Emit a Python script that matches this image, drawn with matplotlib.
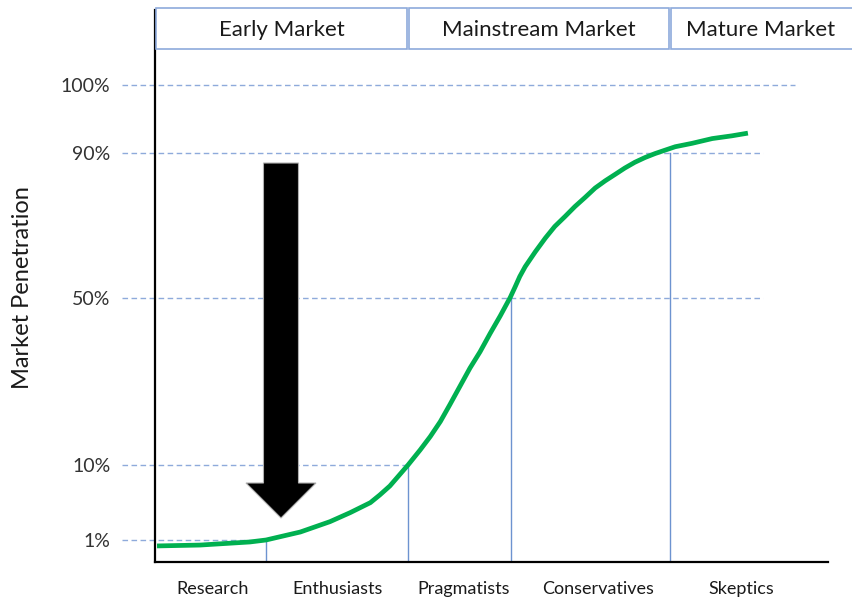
import numpy as np
import matplotlib.pyplot as plt
from matplotlib.patches import Rectangle, FancyArrow
from matplotlib.transforms import blended_transform_factory

plt.rcParams['font.family'] = ['Lato', 'DejaVu Sans']

# adoption curve: time (arbitrary units) vs market penetration (%)
time = [0.3, 6.7, 14.1, 16.5, 21.6, 26.0, 29.0, 32.0, 33.4, 34.9,
        37.6, 39.4, 40.9, 42.4, 43.8, 45.3, 46.8, 48.3, 49.8, 51.3,
        52.8, 53.5, 54.2, 55.0, 56.5, 58.0, 59.4, 60.9, 62.4, 63.9,
        65.4, 66.9, 68.4, 69.8, 71.3, 72.8, 74.3, 75.8, 77.3, 79.8,
        82.8, 85.7, 88.1]
penetration = [0.73, 0.77, 0.91, 1.0, 1.96, 3.2, 4.28, 5.48, 6.4, 7.48,
               10.0, 13.6, 16.8, 20.4, 24.4, 28.8, 33.2, 37.1, 41.5, 45.7,
               50.2, 53.0, 55.9, 58.6, 62.7, 66.5, 69.7, 72.4, 75.2, 77.7,
               80.3, 82.3, 84.1, 85.8, 87.4, 88.7, 89.8, 90.4, 90.9, 91.4,
               92.1, 92.5, 92.9]

# penetration levels and when the curve reaches them
levels = [1, 10, 50, 90, 100]
level_time = [16.5, 37.6, 52.9, 76.5]
guide_end = [16.5, 37.6, 90.3, 90.3, 95.1]

# adopter groups along the bottom
groups = ['Research', 'Enthusiasts', 'Pragmatists', 'Conservatives', 'Skeptics']
group_x = [8.5, 27.1, 45.8, 65.8, 87.1]

# market phases along the top
phases = ['Early Market', 'Mainstream Market', 'Mature Market']
phase_edges = [0, 37.6, 76.5, 104]

# the y axis is not linear: piecewise mapping of % to height
scale_pct = [0, 1, 10, 50, 90, 100, 115]
scale_pos = [0, 22, 97, 264, 409, 477, 579]


def fwd(v):
    return np.interp(v, scale_pct, scale_pos)


def inv(v):
    return np.interp(v, scale_pos, scale_pct)


fig = plt.figure(figsize=(8.52, 6), dpi=100)
ax = fig.add_axes([155 / 852, 38 / 600, 673 / 852, 552 / 600])
ax.set_yscale('function', functions=(fwd, inv))
ax.set_xlim(0, 100)
ax.set_ylim(0, 111)

guide_col = '#8eaadb'
vline_col = '#6d93d0'

# dashed guides (start left of the axis)
for lv, xe in zip(levels, guide_end):
    ax.plot([-4.9, xe], [lv, lv], color=guide_col, lw=1, ls=(0, (4, 2.5)),
            clip_on=False, zorder=1)

# drops from the curve to the time axis
for lv, t in zip(levels, level_time):
    ax.plot([t, t], [lv, 0], color=vline_col, lw=1, zorder=1)

ax.plot(time, penetration, color='#00b050', lw=3.4, solid_capstyle='butt',
        solid_joinstyle='round', zorder=3)

# big arrow
arr = FancyArrow(0.1872, 0.7228, 0, -0.6431, width=0.052, head_width=0.104,
                 head_length=0.0634, length_includes_head=True,
                 facecolor='black', edgecolor='#b0b0b0', lw=0.8,
                 transform=ax.transAxes, zorder=4)
ax.add_patch(arr)

# phase boxes
trans = blended_transform_factory(ax.transData, ax.transAxes)
for name, x0, x1 in zip(phases, phase_edges[:-1], phase_edges[1:]):
    ax.add_patch(Rectangle((x0 + 0.15, 0.929), x1 - x0 - 0.3, 0.075, transform=trans,
                           facecolor='white', edgecolor=guide_col, lw=1.2,
                           clip_on=False, zorder=5))
    mid = (x0 + min(x1, 103.6)) / 2
    ax.text(mid, 0.964, name, transform=trans, ha='center', va='center',
            fontsize=16, color='#1a1a1a', zorder=6)

for s in ['top', 'right']:
    ax.spines[s].set_visible(False)
for s in ['left', 'bottom']:
    ax.spines[s].set_linewidth(1.6)
    ax.spines[s].set_color('black')

ax.set_yticks(levels)
ax.set_yticklabels([f'{v}%' for v in levels])
ax.yaxis.set_minor_locator(plt.NullLocator())
ax.set_xticks(group_x)
ax.set_xticklabels(groups)
ax.tick_params(axis='y', length=0, pad=32, labelsize=14, labelcolor='#333333')
ax.tick_params(axis='x', length=0, pad=13.5, labelsize=13, labelcolor='#1a1a1a')

fig.text(23 / 852, 1 - 288 / 600, 'Market Penetration', rotation=90,
         ha='center', va='center', fontsize=17, color='#1a1a1a')

fig.savefig('out.png', dpi=100)
